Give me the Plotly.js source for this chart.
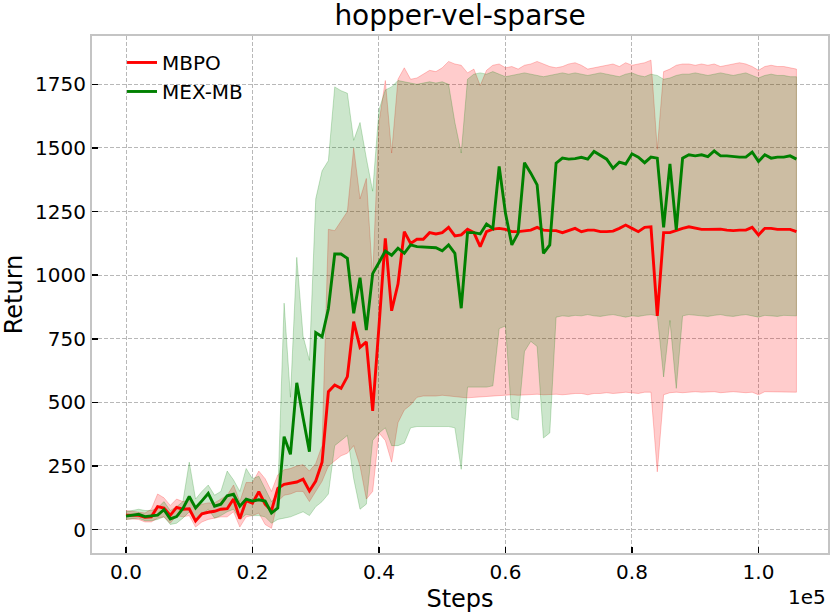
<!DOCTYPE html>
<html>
<head>
<meta charset="utf-8">
<script src="https://cdn.plot.ly/plotly-3.0.1.min.js"></script>
<style>html,body{margin:0;padding:0;background:#fff;}#chart{width:831px;height:615px;}</style>
</head>
<body>
<div id="chart"></div>
<script>
const steps = [0,1000,2000,3000,4000,5000,6000,7000,8000,9000,10000,11000,12000,13000,14000,15000,16000,17000,18000,19000,20000,21000,22000,23000,24000,25000,26000,27000,28000,29000,30000,31000,32000,33000,34000,35000,36000,37000,38000,39000,40000,41000,42000,43000,44000,45000,46000,47000,48000,49000,50000,51000,52000,53000,54000,55000,56000,57000,58000,59000,60000,61000,62000,63000,64000,65000,66000,67000,68000,69000,70000,71000,72000,73000,74000,75000,76000,77000,78000,79000,80000,81000,82000,83000,84000,85000,86000,87000,88000,89000,90000,91000,92000,93000,94000,95000,96000,97000,98000,99000,100000,101000,102000,103000,104000,105000,106000];

const mbpoMean = [57,57,56,48,50,90,85,56,87,80, 82,34,62,68,72,80,82,120,43,114, 104,149,100,74,162,178,183,187,198,152, 191,265,542,568,555,601,817,716,738,467, 800,1145,860,965,1171,1125,1141,1141,1167,1162, 1167,1188,1154,1158,1180,1167,1112,1171,1181,1184, 1180,1171,1171,1175,1177,1188,1177,1175,1175,1167, 1177,1184,1171,1177,1177,1171,1171,1173,1184,1197, 1184,1171,1188,1190,840,1167,1167,1177,1184,1190, 1184,1180,1180,1180,1181,1177,1175,1177,1177,1188, 1158,1184,1184,1180,1180,1180,1171];
const mbpoUpper = [75,72,70,65,80,140,125,95,120,110, 115,85,100,105,105,120,135,175,110,185, 185,230,200,150,215,235,240,250,255,230, 260,330,1180,1175,1215,1250,1500,1300,1380,990, 1600,1765,1480,1770,1815,1770,1775,1790,1805,1800, 1815,1840,1830,1825,1795,1810,1745,1805,1825,1830, 1815,1820,1810,1825,1830,1840,1830,1820,1815,1820, 1830,1835,1825,1810,1815,1820,1825,1830,1820,1835, 1825,1830,1835,1845,1495,1800,1810,1825,1830,1830, 1825,1830,1825,1830,1820,1825,1830,1835,1830,1820, 1805,1820,1825,1820,1820,1815,1810];
const mbpoLower = [40,42,40,30,30,45,50,25,55,50, 55,10,30,40,45,50,50,70,10,50, 55,65,20,5,110,135,140,150,150,110, 150,190,250,270,290,300,330,250,120,150, 380,350,265,420,470,490,520,525,525,525, 528,525,522,520,518,520,520,522,525,525, 528,530,528,528,530,532,530,530,532,530, 532,535,535,530,535,535,538,535,537,540, 538,535,540,540,227,530,538,540,538,540, 542,540,540,542,538,540,542,540,538,540, 530,542,540,540,542,540,540];

const mexMean = [53,57,60,51,53,57,78,42,51,83, 130,85,113,142,92,100,133,139,92,120, 112,117,112,65,85,365,296,577,440,306, 774,758,868,1083,1083,1066,850,990,784,1006, 1050,1095,1078,1106,1086,1119,1112,1110,1110,1108, 1096,1119,1086,870,1167,1167,1162,1201,1184,1427, 1243,1119,1165,1442,1401,1355,1086,1119,1440,1460, 1456,1458,1463,1456,1486,1471,1456,1420,1444,1437, 1477,1464,1442,1464,1460,1188,1437,1178,1460,1473, 1469,1473,1466,1488,1469,1469,1466,1464,1464,1484, 1447,1473,1460,1464,1464,1469,1456];
const mexUpper = [70,75,80,75,75,85,110,75,90,110, 265,120,150,175,135,150,230,195,150,240, 200,210,160,110,140,890,520,1070,760,665, 1300,1410,1450,1740,1725,1715,1530,1600,1460,1330, 1650,1728,1740,1765,1760,1755,1750,1755,1760,1755, 1760,1750,1600,1480,1770,1790,1795,1790,1800,1790, 1780,1785,1790,1795,1790,1785,1780,1785,1790,1795, 1790,1795,1790,1785,1790,1795,1790,1785,1780,1790, 1795,1785,1780,1790,1785,1770,1775,1785,1790,1790, 1795,1790,1785,1790,1795,1790,1785,1790,1795,1785, 1775,1785,1790,1785,1785,1780,1780];
const mexLower = [40,42,45,35,35,40,50,20,25,45, 70,40,60,80,45,55,70,80,40,60, 55,55,50,25,40,45,50,60,70,55, 90,110,140,330,350,370,200,80,100,350, 380,400,330,330,340,400,405,405,405,405, 405,405,400,237,560,560,560,560,565,790, 800,440,430,700,740,720,360,380,835,840, 838,842,840,845,840,838,842,845,840,835, 840,838,842,845,840,600,822,555,840,845, 842,840,838,842,845,840,838,842,845,840, 835,842,840,838,842,840,840];

const xTickVals = [0,20000,40000,60000,80000,100000];
const xTickText = ['0.0','0.2','0.4','0.6','0.8','1.0'];
const yTickVals = [0,250,500,750,1000,1250,1500,1750];
const yTickText = ['0','250','500','750','1000','1250','1500','1750'];

function band(x, up, lo, fill, edge) {
  return {
    x: x.concat(x.slice().reverse()),
    y: up.concat(lo.slice().reverse()),
    type: 'scatter', mode: 'lines', fill: 'toself',
    fillcolor: fill, line: {color: edge, width: 1},
    showlegend: false, hoverinfo: 'skip'
  };
}

const traces = [
  band(steps, mbpoUpper, mbpoLower, 'rgba(255,0,0,0.2)', 'rgba(255,0,0,0.22)'),
  band(steps, mexUpper, mexLower, 'rgba(0,128,0,0.2)', 'rgba(0,128,0,0.22)'),
  {x: steps, y: mbpoMean, type: 'scatter', mode: 'lines', name: 'MBPO', line: {color: '#ff0000', width: 2.9}},
  {x: steps, y: mexMean, type: 'scatter', mode: 'lines', name: 'MEX-MB', line: {color: '#008000', width: 2.9}}
];

const font = 'DejaVu Sans, sans-serif';
const layout = {
  width: 831, height: 615,
  margin: {l: 92, r: 3, t: 36, b: 62},
  paper_bgcolor: '#ffffff', plot_bgcolor: '#ffffff',
  font: {family: font, color: '#000000', size: 20},
  title: {text: 'hopper-vel-sparse', font: {family: font, size: 28, color: '#000'}, x: 0.5, xref: 'paper', y: 1 - 15/615, yref: 'container', yanchor: 'middle'},
  showlegend: true,
  legend: {x: 0.0408, y: 0.9865, xanchor: 'left', yanchor: 'top', bgcolor: 'rgba(0,0,0,0)', borderwidth: 0, font: {family: font, size: 20}},
  xaxis: {
    range: [-5375, 110990], tickvals: xTickVals, ticktext: xTickText,
    ticks: 'inside', ticklen: 6, tickwidth: 1.5, tickcolor: '#000',
    showgrid: true, gridcolor: '#b8b8b8', gridwidth: 1, griddash: '4px,2px',
    showline: true, linecolor: '#c4c4c4', linewidth: 2, mirror: true, zeroline: false,
    tickfont: {family: font, size: 20},
    title: {text: 'Steps', font: {family: font, size: 24}, standoff: 7}
  },
  yaxis: {
    range: [-92, 1940], tickvals: yTickVals, ticktext: yTickText,
    ticks: 'inside', ticklen: 6, tickwidth: 1.5, tickcolor: '#000',
    showgrid: true, gridcolor: '#b8b8b8', gridwidth: 1, griddash: '4px,2px',
    showline: true, linecolor: '#c4c4c4', linewidth: 2, mirror: true, zeroline: false,
    tickfont: {family: font, size: 20},
    title: {text: 'Return', font: {family: font, size: 24}, standoff: 6}
  },
  annotations: [
    {text: '1e5', xref: 'paper', yref: 'paper', x: 1, y: 0, xanchor: 'right', yanchor: 'middle', yshift: -44, xshift: 0, showarrow: false, font: {family: font, size: 20}}
  ]
};

Plotly.newPlot('chart', traces, layout, {displayModeBar: false, staticPlot: true});
</script>
</body>
</html>
